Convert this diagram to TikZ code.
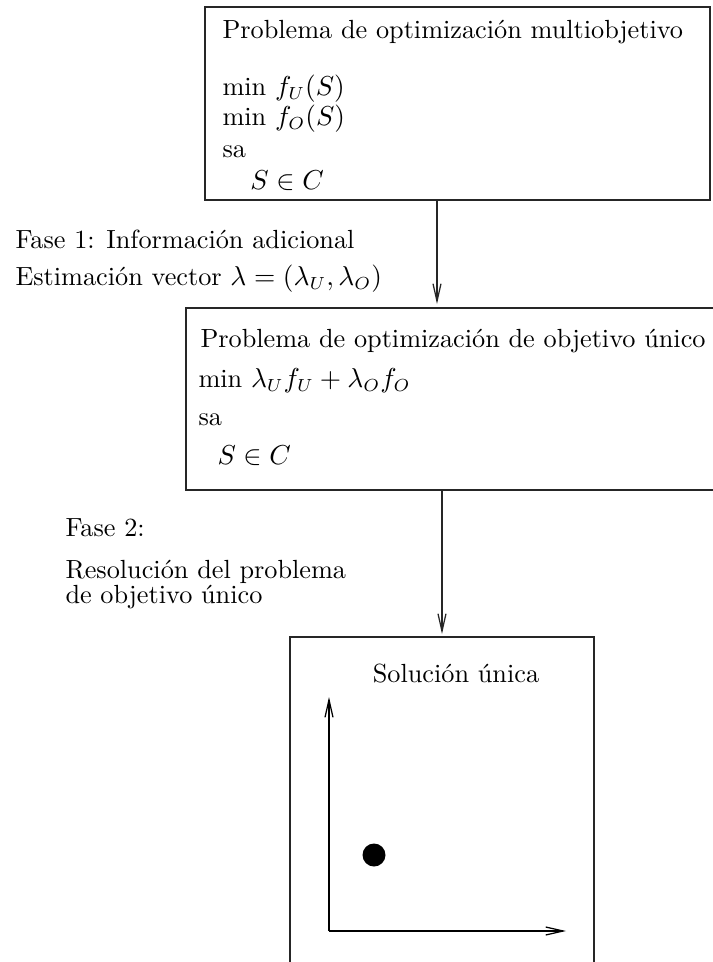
\documentclass[tikz,border=0pt]{standalone}
\usetikzlibrary{arrows.meta}
\begin{document}
\begin{tikzpicture}[x=0.4pt,y=-0.4pt,
  frame/.style={draw=black!85,line width=0.5pt},
  txt/.style={anchor=base west,inner sep=0pt,font=\fontsize{10.5}{12.6}\selectfont},
  flow/.style={draw=black!85,line width=0.5pt,-{Straight Barb[length=7pt,width=3.2pt,line width=0.5pt]}},
  axis/.style={draw=black,line width=0.5pt,-{Straight Barb[length=7pt,width=3.2pt,line width=0.5pt]}}]
\useasboundingbox (0,0) rectangle (713,962);
\clip (0,0) rectangle (713,962);

% boxes
\draw[frame] (205,7) rectangle (710,200);
\draw[frame] (186,308) rectangle (720,490);
\draw[frame] (290,637) rectangle (594,990);

% first box text
\node[txt] (t1) at (222,38) {Problema de optimización multiobjetivo};
\node[txt] (t2) at (222,95) {min $f_U(S)$};
\node[txt] (t3) at (222,125) {min $f_O(S)$};
\node[txt] (t4) at (222,157) {sa};
\node[txt] (t5) at (250,189) {$S\in C$};

% phase 1 labels
\node[txt] (p1) at (15,248) {Fase 1: Información adicional};
\node[txt] (p2) at (15,285) {Estimación vector $\lambda=(\lambda_U,\lambda_O)$};

% second box text
\node[txt] (m1) at (200,347) {Problema de optimización de objetivo único};
\node[txt] (m2) at (198,387) {min $\lambda_U f_U+\lambda_O f_O$};
\node[txt] (m3) at (198,425) {sa};
\node[txt] (m4) at (217,464) {$S\in C$};

% phase 2 labels
\node[txt] (q1) at (65,536) {Fase 2:};
\node[txt] (q2) at (65,578) {Resolución del problema};
\node[txt] (q3) at (65,603) {de objetivo único};

% connectors
\coordinate (a1s) at (437,200);
\coordinate (a1e) at (437,304);
\coordinate (a2s) at (442,490);
\coordinate (a2e) at (442,634);
\draw[flow] (a1s) -- (a1e);
\draw[flow] (a2s) -- (a2e);

% solution panel
\node[txt,anchor=base] (sol) at (456,682) {Solución única};
\coordinate (o) at (329,931);
\coordinate (yend) at (329,697);
\coordinate (xend) at (566,931);
\draw[axis] (o) -- (yend);
\draw[axis] (o) -- (xend);
\fill (374,855) circle (11.5);
\end{tikzpicture}
\end{document}
